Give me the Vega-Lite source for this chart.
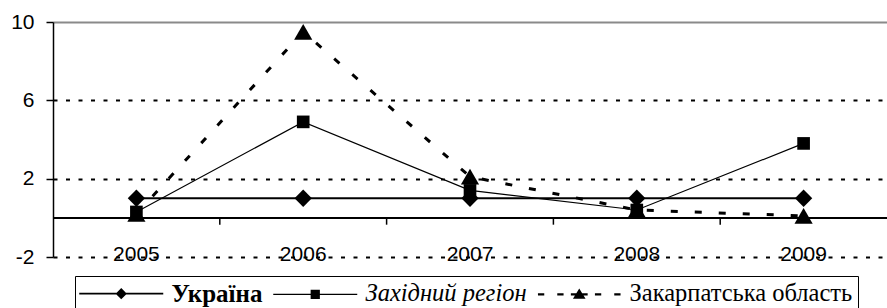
{
  "$schema": "https://vega.github.io/schema/vega-lite/v6.json",
  "width": 834,
  "height": 235,
  "autosize": {"type": "none"},
  "padding": {"left": 53, "top": 22, "right": 0, "bottom": 51},
  "background": "white",
  "config": {"view": {"stroke": null}},
  "data": {
    "values": [
      {"year": "2005", "series": "Україна", "value": 1.0},
      {"year": "2006", "series": "Україна", "value": 1.0},
      {"year": "2007", "series": "Україна", "value": 1.0},
      {"year": "2008", "series": "Україна", "value": 1.0},
      {"year": "2009", "series": "Україна", "value": 1.0},
      {"year": "2005", "series": "Західний регіон", "value": 0.3},
      {"year": "2006", "series": "Західний регіон", "value": 4.9},
      {"year": "2007", "series": "Західний регіон", "value": 1.4},
      {"year": "2008", "series": "Західний регіон", "value": 0.4},
      {"year": "2009", "series": "Західний регіон", "value": 3.8},
      {"year": "2005", "series": "Закарпатська область", "value": 0.2},
      {"year": "2006", "series": "Закарпатська область", "value": 9.5},
      {"year": "2007", "series": "Закарпатська область", "value": 2.1},
      {"year": "2008", "series": "Закарпатська область", "value": 0.4},
      {"year": "2009", "series": "Закарпатська область", "value": 0.1}
    ]
  },
  "layer": [
    {
      "transform": [{"filter": "datum.series === 'Україна'"}],
      "mark": {"type": "line", "color": "black", "strokeWidth": 2},
      "encoding": {
        "x": {
          "field": "year", "type": "ordinal",
          "scale": {"type": "band", "paddingInner": 0, "paddingOuter": 0},
          "axis": {"domain": false, "ticks": false, "tickSize": 0, "labelPadding": 3, "labelBaseline": "alphabetic",
                   "labelFont": "Liberation Sans", "labelFontSize": 21, "labelColor": "black", "title": null,
                   "grid": false, "labelAngle": 0, "labelOverlap": false}
        },
        "y": {
          "field": "value", "type": "quantitative",
          "scale": {"domain": [-2, 10], "nice": false, "zero": false},
          "axis": {"values": [-2, 2, 6, 10], "domainColor": "black", "domainWidth": 1.5, "tickColor": "black",
                   "tickSize": 7, "tickWidth": 1.5, "labelFont": "Liberation Sans", "labelFontSize": 21,
                   "labelColor": "black", "labelPadding": 12, "title": null, "grid": true,
                   "labelExpr": "replace(datum.label, '−', '-')",
                   "gridColor": {"condition": {"test": "datum.value === 10", "value": "#8a8a8a"}, "value": "black"},
                   "gridDash": {"condition": {"test": "datum.value === 10", "value": []}, "value": [4, 8.5]},
                   "gridWidth": 2, "gridOpacity": 1}
        }
      }
    },
    {
      "transform": [{"filter": "datum.series === 'Західний регіон'"}],
      "mark": {"type": "line", "color": "black", "strokeWidth": 1.2},
      "encoding": {
        "x": {"field": "year", "type": "ordinal"},
        "y": {"field": "value", "type": "quantitative"}
      }
    },
    {
      "transform": [{"filter": "datum.series === 'Закарпатська область'"}],
      "mark": {"type": "line", "color": "black", "strokeWidth": 3, "strokeDash": [7, 17]},
      "encoding": {
        "x": {"field": "year", "type": "ordinal"},
        "y": {"field": "value", "type": "quantitative"}
      }
    },
    {
      "mark": {"type": "rule", "color": "black", "strokeWidth": 1.5},
      "encoding": {"y": {"datum": 0, "type": "quantitative"}}
    },
    {
      "transform": [{"filter": "datum.series === 'Україна' && datum.year !== '2005'"}],
      "mark": {"type": "rule", "color": "black", "strokeWidth": 1.5},
      "encoding": {
        "x": {"field": "year", "type": "ordinal", "bandPosition": 0},
        "y": {"datum": 0, "type": "quantitative"},
        "y2": {"datum": -0.35}
      }
    },
    {
      "transform": [{"filter": "datum.series === 'Закарпатська область'"}],
      "mark": {"type": "point", "shape": "triangle-up", "filled": true, "color": "black", "opacity": 1, "size": 330},
      "encoding": {"x": {"field": "year", "type": "ordinal"}, "y": {"field": "value", "type": "quantitative"}}
    },
    {
      "transform": [{"filter": "datum.series === 'Західний регіон'"}],
      "mark": {"type": "point", "shape": "square", "filled": true, "color": "black", "opacity": 1, "size": 160},
      "encoding": {"x": {"field": "year", "type": "ordinal"}, "y": {"field": "value", "type": "quantitative"}}
    },
    {
      "transform": [{"filter": "datum.series === 'Україна'"}],
      "mark": {"type": "point", "shape": "diamond", "filled": true, "color": "black", "opacity": 1, "size": 300},
      "encoding": {"x": {"field": "year", "type": "ordinal"}, "y": {"field": "value", "type": "quantitative"}}
    },
    {
      "mark": {"type": "point", "filled": true, "color": "black", "opacity": 0, "size": 196},
      "encoding": {
        "x": {"field": "year", "type": "ordinal"},
        "y": {"field": "value", "type": "quantitative"},
        "shape": {
          "field": "series", "type": "nominal",
          "scale": {
            "domain": ["Україна", "Західний регіон", "Закарпатська область"],
            "range": [
              "M-6,-0.13H6V0.13H-6ZM0,-0.8L0.8,0L0,0.8L-0.8,0Z",
              "M-6,-0.1H6V0.1H-6ZM-0.66,-0.66H0.66V0.66H-0.66Z",
              "M-5.9,-0.16H-5V0.16H-5.9ZM-3.14,-0.16H-2.24V0.16H-3.14ZM-1.2,-0.16H1.2V0.16H-1.2ZM2.24,-0.16H3.14V0.16H2.24ZM5,-0.16H5.9V0.16H5ZM0,-0.84L0.9,0.64H-0.9Z"
            ]
          },
          "legend": {
            "orient": "none", "legendX": 22, "legendY": 254, "direction": "horizontal", "title": null,
            "strokeColor": "black", "fillColor": "white", "padding": 5,
            "symbolSize": 196, "symbolOffset": 29, "labelOffset": 38, "columnPadding": 10,
            "labelFont": "Liberation Serif", "labelColor": "black", "labelLimit": 400,
            "symbolFillColor": "black", "symbolStrokeColor": "black", "symbolOpacity": 1, "symbolStrokeWidth": 0,
            "labelFontSize": {"expr": "datum.value === 'Україна' ? 25 : 24.5"},
            "labelFontWeight": {"expr": "datum.value === 'Україна' ? 'bold' : 'normal'"},
            "labelFontStyle": {"expr": "datum.value === 'Західний регіон' ? 'italic' : 'normal'"}
          }
        }
      }
    }
  ]
}
